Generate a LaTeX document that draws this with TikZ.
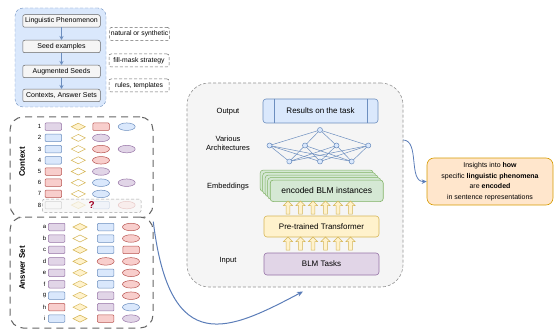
\documentclass[tikz,border=0pt]{standalone}
\usepackage{fontspec}
\setmainfont{Liberation Sans}
\usetikzlibrary{shapes.geometric,shapes.arrows,arrows.meta}
\definecolor{bfill}{HTML}{DAE8FC}\definecolor{bline}{HTML}{6C8EBF}
\definecolor{gfill}{HTML}{D5E8D4}\definecolor{gline}{HTML}{82B366}
\definecolor{yfill}{HTML}{FFF2CC}\definecolor{yline}{HTML}{D6B656}
\definecolor{rfill}{HTML}{F8CECC}\definecolor{rline}{HTML}{B85450}
\definecolor{pfill}{HTML}{E1D5E7}\definecolor{pline}{HTML}{9673A6}
\definecolor{ofill}{HTML}{FFE6CC}\definecolor{oline}{HTML}{D79B00}
\definecolor{kfill}{HTML}{F5F5F5}\definecolor{kline}{HTML}{666666}
\definecolor{qred}{HTML}{A20025}
\definecolor{arrowblue}{HTML}{5B7DB8}
\tikzset{
  shp/.style={inner sep=0pt, line width=0.5pt},
  rct/.style={shp, rectangle, rounded corners=1pt, minimum width=16.5pt, minimum height=7.5pt},
  ell/.style={shp, ellipse, minimum width=17pt, minimum height=7.5pt},
  P/.style={fill=pfill, draw=pline},
  B/.style={fill=bfill, draw=bline},
  R/.style={fill=rfill, draw=rline},
  Y/.style={fill=yfill, draw=yline},
  W/.style={fill=white, draw=yline},
  num/.style={inner sep=0pt, font=\fontsize{6}{7}\selectfont},
  stepbox/.style={draw=kline, fill=kfill, rounded corners=2pt, minimum width=77.5pt, minimum height=12.5pt, inner sep=0pt, line width=0.5pt, font=\fontsize{7}{8}\selectfont},
  sidebox/.style={draw=kline, dashed, dash pattern=on 3pt off 2pt, rounded corners=2pt, minimum width=60pt, minimum height=13pt, inner sep=0pt, line width=0.5pt, font=\fontsize{6.8}{7.5}\selectfont},
  grouptxt/.style={font=\fontsize{7.5}{9}\selectfont, align=center},
  nn/.style={circle, fill=bfill, draw=bline, inner sep=0pt, minimum size=5pt, line width=0.5pt},
  upar/.style={single arrow, shape border rotate=90, fill=yfill, draw=yline, line width=0.5pt, minimum height=13pt, minimum width=9pt, single arrow head extend=2pt, single arrow tip angle=90, inner sep=1.3pt},
  embbox/.style={draw=gline, fill=gfill, rounded corners=3pt, minimum width=113pt, minimum height=21.5pt, inner sep=0pt, line width=0.5pt},
  flow/.style={draw=arrowblue, line width=1pt, -{Stealth[length=6pt,width=5pt]}},
  small/.style={draw=bline, line width=0.8pt, -{Stealth[length=4pt,width=4pt]}},
}
\newcommand\dmd[4]{\coordinate (#1) at (#3,#4);
  \path[#2, line width=0.5pt] (#1) ++(-7,0) -- ++(7,-3.5) -- ++(7,3.5) -- ++(-7,3.5) -- cycle;}
\begin{document}
\begin{tikzpicture}[x=1pt,y=-1pt]
\useasboundingbox (0,0) rectangle (555,329);

% ---------- top-left pipeline ----------
\node[draw=bline, fill=bfill, dashed, dash pattern=on 3pt off 2pt, rounded corners=8pt, minimum width=91pt, minimum height=99pt, inner sep=0pt] (pipe) at (60.5,57.5) {};
\node[stepbox] (s1) at (61.5,21) {Linguistic Phenomenon};
\node[stepbox] (s2) at (61.5,46.5) {Seed examples};
\node[stepbox] (s3) at (61.5,71.5) {Augmented Seeds};
\node[stepbox] (s4) at (61.5,95.5) {Contexts, Answer Sets};
\draw[small] (s1) -- (s2);
\draw[small] (s2) -- (s3);
\draw[small] (s3) -- (s4);
\node[sidebox] (l1) at (139.5,34) {natural or synthetic};
\node[sidebox] (l2) at (139,60.5) {fill-mask strategy};
\node[sidebox] (l3) at (139,85.5) {rules, templates};

% ---------- context box ----------
\node[draw=kline, fill=white, dash pattern=on 7pt off 5pt, line width=1pt, rounded corners=13pt, minimum width=143pt, minimum height=101pt, inner sep=0pt] (ctx) at (81.5,167.5) {};
\node[rotate=90, font=\bfseries\fontsize{8}{9}\selectfont] (ctxlab) at (22,162) {Context};

\foreach \i/\yy in {1/126.7,2/137.9,3/149.1,4/160.3,5/171.5,6/182.7,7/193.9,8/205.1}{
  \node[num] (cn\i) at (39.5,\yy) {\i};
}
\node[rct,P] (c1a) at (53.3,126.7) {}; \dmd{c1b}{Y}{78.3}{126.7} \node[rct,R] (c1c) at (101,126.7) {}; \node[ell,B] (c1d) at (126.7,126.7) {};
\node[rct,B] (c2a) at (53.3,137.9) {}; \dmd{c2b}{W}{78.3}{137.9} \node[ell,P] (c2c) at (101,137.9) {};
\node[rct,B] (c3a) at (53.3,149.1) {}; \dmd{c3b}{W}{78.3}{149.1} \node[ell,R] (c3c) at (101,149.1) {}; \node[ell,P] (c3d) at (126.7,149.1) {};
\node[rct,B] (c4a) at (53.3,160.3) {}; \dmd{c4b}{W}{78.3}{160.3} \node[ell,R] (c4c) at (101,160.3) {};
\node[rct,R] (c5a) at (53.3,171.5) {}; \dmd{c5b}{W}{78.3}{171.5} \node[ell,P] (c5c) at (101,171.5) {};
\node[rct,R] (c6a) at (53.3,182.7) {}; \dmd{c6b}{W}{78.3}{182.7} \node[ell,B] (c6c) at (101,182.7) {}; \node[ell,P] (c6d) at (126.7,182.7) {};
\node[rct,R] (c7a) at (53.3,193.9) {}; \dmd{c7b}{W}{78.3}{193.9} \node[ell,B] (c7c) at (101,193.9) {};
% row 8 (missing)
\node[draw=kline!60, fill=kfill!80!gray!20, dashed, dash pattern=on 3pt off 2pt, rounded corners=2pt, minimum width=98.5pt, minimum height=13.5pt, inner sep=0pt, line width=0.5pt] (c8box) at (91.8,205.8) {};
\begin{scope}[opacity=0.25]
\node[rct, fill=kfill, draw=kline] (c8a) at (53.3,205.1) {};
\dmd{c8b}{Y}{78.3}{205.1}
\node[rct,B] (c8c) at (101,205.1) {};
\node[ell,R] (c8d) at (126.7,205.1) {};
\end{scope}
\node[text=qred, font=\bfseries\fontsize{10}{11}\selectfont, inner sep=0pt] (q) at (91.7,205.5) {?};

% ---------- answer set box ----------
\node[draw=kline, fill=white, dash pattern=on 7pt off 5pt, line width=1pt, rounded corners=13pt, minimum width=143pt, minimum height=111pt, inner sep=0pt] (ans) at (81.5,272.5) {};
\node[rotate=90, font=\bfseries\fontsize{8}{9}\selectfont] (anslab) at (22,268) {Answer Set};
\foreach \l/\yy in {a/227,b/238.5,c/249.9,d/261.4,e/272.8,f/284.3,g/295.7,h/307.2,i/318.6}{
  \node[num] (an\l) at (44.5,\yy) {\l};
}
\node[rct,P] (aa1) at (56.7,227) {};   \dmd{aa2}{Y}{80}{227}   \node[rct,B] (aa3) at (105.7,227) {};   \node[ell,R] (aa4) at (131,227) {};
\node[rct,P] (ab1) at (56.7,238.5) {}; \dmd{ab2}{W}{80}{238.5} \node[rct,B] (ab3) at (105.7,238.5) {}; \node[ell,R] (ab4) at (131,238.5) {};
\node[rct,P] (ac1) at (56.7,249.9) {}; \dmd{ac2}{Y}{80}{249.9} \node[rct,B] (ac3) at (105.7,249.9) {}; \node[rct,R] (ac4) at (131,249.9) {};
\node[rct,P] (ad1) at (56.7,261.4) {}; \dmd{ad2}{Y}{80}{261.4} \node[ell,R] (ad3) at (105.7,261.4) {}; \node[ell,R] (ad4) at (131,261.4) {};
\node[rct,P] (ae1) at (56.7,272.8) {}; \dmd{ae2}{Y}{80}{272.8} \node[rct,B] (ae3) at (105.7,272.8) {}; \node[ell,R] (ae4) at (131,272.8) {};
\node[rct,P] (af1) at (56.7,284.3) {}; \dmd{af2}{Y}{80}{284.3} \node[rct,B] (af3) at (105.7,284.3) {}; \node[ell,R] (af4) at (131,284.3) {};
\node[rct,B] (ag1) at (56.7,295.7) {}; \dmd{ag2}{Y}{80}{295.7} \node[rct,P] (ag3) at (105.7,295.7) {}; \node[ell,R] (ag4) at (131,295.7) {};
\node[rct,R] (ah1) at (56.7,307.2) {}; \dmd{ah2}{Y}{80}{307.2} \node[rct,P] (ah3) at (105.7,307.2) {}; \node[ell,B] (ah4) at (131,307.2) {};
\node[rct,B] (ai1) at (56.7,318.6) {}; \dmd{ai2}{Y}{80}{318.6} \node[rct,R] (ai3) at (105.7,318.6) {}; \node[ell,P] (ai4) at (131,318.6) {};

% ---------- model box ----------
\node[draw=kline!70, fill=kfill, dashed, dash pattern=on 3pt off 2pt, line width=0.6pt, rounded corners=22pt, minimum width=216pt, minimum height=204pt, inner sep=0pt] (model) at (295,185) {};
\node[grouptxt] (tout) at (228,112) {Output};
\node[grouptxt] (tarch) at (228,143) {Various\\Architectures};
\node[grouptxt] (temb) at (228,187) {Embeddings};
\node[grouptxt] (tin) at (228,261) {Input};

\node[draw=bline, fill=bfill, rounded corners=3pt, minimum width=115pt, minimum height=24pt, inner sep=0pt, line width=0.6pt, font=\fontsize{8}{9}\selectfont] (res) at (320.5,111) {Results on the task};
\draw[bline, line width=0.6pt] ([xshift=12pt]res.north west) -- ([xshift=12pt]res.south west);
\draw[bline, line width=0.6pt] ([xshift=-11pt]res.north east) -- ([xshift=-11pt]res.south east);

% network
\coordinate (n0) at (320,130);
\coordinate (m1) at (269.5,145.5);
\coordinate (m2) at (305,145.5);
\coordinate (m3) at (336.5,145.5);
\coordinate (m4) at (368.3,145.5);
\coordinate (b1) at (289.3,161.5);
\coordinate (b2) at (320,161.5);
\coordinate (b3) at (351.7,161.5);
\foreach \m in {m1,m2,m3,m4}{
  \draw[bline, line width=0.5pt] (n0) -- (\m);
  \foreach \b in {b1,b2,b3}{ \draw[bline, line width=0.5pt] (\m) -- (\b); }
}
\foreach \m in {n0,m1,m2,m3,m4,b1,b2,b3}{ \node[nn] (c\m) at (\m) {}; }

% embeddings stack
\node[embbox] (e4) at (316.7,180.8) {};
\node[embbox] (e3) at (319.2,183.3) {};
\node[embbox] (e2) at (321.7,185.8) {};
\node[embbox] (e1) at (324.2,188.3) {};
\node[embbox, line width=0.6pt, font=\fontsize{8.5}{10}\selectfont] (emb) at (326.7,190.8) {encoded BLM instances};

\node[draw=yline, fill=yfill, rounded corners=3pt, minimum width=115pt, minimum height=21pt, inner sep=0pt, line width=0.6pt, font=\fontsize{8}{9}\selectfont] (tr) at (321.5,226.5) {Pre-trained Transformer};
\node[draw=pline, fill=pfill, rounded corners=3pt, minimum width=115pt, minimum height=22pt, inner sep=0pt, line width=0.6pt, font=\fontsize{8}{9}\selectfont] (blm) at (321.5,264) {BLM Tasks};

\foreach \k/\xx in {1/288,2/300.5,3/313,4/325.5,5/338,6/350.5}{
  \node[upar] (ua\k) at (\xx,208.5) {};
  \node[upar] (ub\k) at (\xx,244.5) {};
}

% ---------- insights box ----------
\node[draw=oline, fill=ofill, rounded corners=7pt, minimum width=126pt, minimum height=47pt, inner sep=0pt, line width=0.6pt, align=center, font=\fontsize{7}{10.5}\selectfont] (ins) at (490,181.5) {Insights into \textbf{how}\\specific \textbf{linguistic phenomena}\\are \textbf{encoded}\\in sentence representations};

% ---------- connectors ----------
\coordinate (mr) at (403,140);
\draw[flow, line width=0.8pt, -{Stealth[length=5pt,width=4.5pt]}] (mr) .. controls (420,140) and (408,182) .. (ins.west);
\coordinate (ansout) at (153.3,221.7);
\coordinate (modin) at (303,291.5);
\draw[flow] (ansout) .. controls (170,360) and (230,330) .. (modin);
\end{tikzpicture}
\end{document}
